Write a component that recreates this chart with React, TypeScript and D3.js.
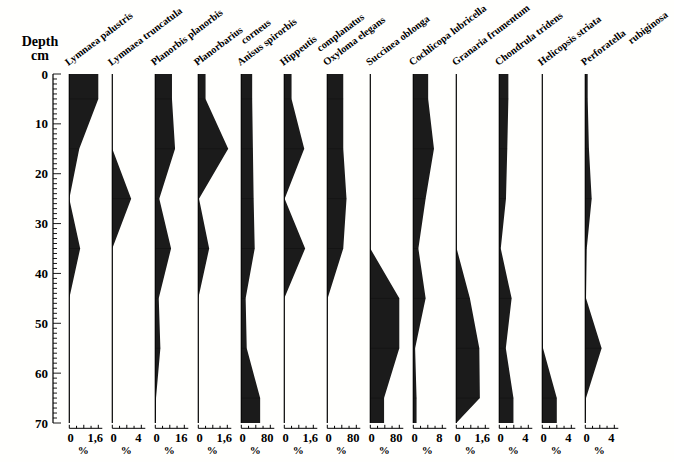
import React from 'react';
import * as d3 from 'd3';

// Sample depths (cm)
const depths = [0, 5, 15, 25, 35, 45, 55, 65, 70];

const speciesLabels: string[][] = [
  ['Lymnaea palustris'],
  ['Lymnaea truncatula'],
  ['Planorbis planorbis'],
  ['Planorbarius', 'corneus'],
  ['Anisus spirorbis'],
  ['Hippeutis', 'complanatus'],
  ['Oxyloma elegans'],
  ['Succinea oblonga'],
  ['Cochlicopa lubricella'],
  ['Granaria frumentum'],
  ['Chondrula tridens'],
  ['Helicopsis striata'],
  ['Perforatella', 'rubiginosa'],
];

const axisMax = [1.6, 4, 16, 1.6, 80, 1.6, 80, 80, 8, 1.6, 4, 4, 4];
const axisMaxLabels = ['1,6', '4', '16', '1,6', '80', '1,6', '80', '80', '8', '1,6', '4', '4', '4'];

// Percent values at each depth
const lymnaeaPalustris = [1.6, 1.6, 0.55, 0, 0.6, 0, 0, 0, 0];
const lymnaeaTruncatula = [0, 0, 0, 2.6, 0, 0, 0, 0, 0];
const planorbisPlanorbis = [9.2, 9.2, 10.9, 2.2, 8.7, 1.9, 2.8, 0.4, 0.3];
const planorbariusCorneus = [0.4, 0.4, 1.65, 0.04, 0.6, 0, 0, 0, 0];
const anisusSpirorbis = [30, 30, 32, 34, 37, 12, 15, 52, 52];
const hippeutisComplanatus = [0.4, 0.4, 1.1, 0.02, 1.15, 0, 0, 0, 0];
const oxylomaElegans = [44, 44, 44, 53, 44, 1, 0, 0, 0];
const succineaOblonga = [0, 0, 0, 0, 0, 80, 80, 38, 38];
const cochlicopaLubricella = [4.1, 4.1, 5.7, 3.4, 1.4, 3.4, 0.5, 0.9, 0.9];
const granariaFrumentum = [0, 0, 0, 0, 0.02, 0.75, 1.27, 1.3, 0];
const chondrulaTridens = [1.25, 1.25, 1.1, 0.92, 0.2, 1.7, 0.9, 1.95, 1.95];
const helicopsisStriata = [0, 0, 0, 0, 0, 0, 0.1, 2, 2];
const perforatellaRubiginosa = [0.33, 0.33, 0.5, 0.88, 0.2, 0.1, 2.25, 0.1, 0.05];

const seriesValues = [
  lymnaeaPalustris,
  lymnaeaTruncatula,
  planorbisPlanorbis,
  planorbariusCorneus,
  anisusSpirorbis,
  hippeutisComplanatus,
  oxylomaElegans,
  succineaOblonga,
  cochlicopaLubricella,
  granariaFrumentum,
  chondrulaTridens,
  helicopsisStriata,
  perforatellaRubiginosa,
];

const depthTicks = [0, 10, 20, 30, 40, 50, 60, 70];

const W = 674;
const H = 462;
const FONT = '"Liberation Serif", "DejaVu Serif", serif';
const FILL = '#1b1b1b';

export default function App() {
  const y = d3.scaleLinear().domain([0, 70]).range([74, 423]);
  const px = d3.scaleLinear().domain([0, seriesValues.length - 1]).range([69.3, 585.3]);
  const panelW = 29;
  const minorTicks = d3.range(0, 71, 1);
  const axisY = 428.3;
  const ROT = -37;

  return (
    <svg
      width={W}
      height={H}
      viewBox={`0 0 ${W} ${H}`}
      style={{ position: 'absolute', left: 0, top: 0, background: '#fffffd' }}
      fontFamily={FONT}
    >
      <rect x={0} y={0} width={W} height={H} fill="#fffffd" />
      {/* Depth header */}
      <text x={40} y={46} textAnchor="middle" fontSize={14} fontWeight="bold">Depth</text>
      <text x={40} y={60} textAnchor="middle" fontSize={14} fontWeight="bold">cm</text>

      {/* Depth axis */}
      <line x1={53} x2={53} y1={y(0)} y2={y(70)} stroke="#000" strokeWidth={1.2} />
      {minorTicks.map((d) => (
        <line
          key={'mt' + d}
          x1={53}
          x2={d % 10 === 0 ? 61 : 57}
          y1={y(d)}
          y2={y(d)}
          stroke="#000"
          strokeWidth={0.9}
        />
      ))}
      {depthTicks.map((d) => (
        <text
          key={'dl' + d}
          x={48}
          y={y(d)}
          dy="0.35em"
          textAnchor="end"
          fontSize={13}
          fontWeight="bold"
        >
          {d}
        </text>
      ))}

      {seriesValues.map((vals, i) => {
        const x0 = px(i);
        const xs = d3.scaleLinear().domain([0, axisMax[i]]).range([x0, x0 + panelW]);
        const pts = depths.map((d, k) => ({ d, v: vals[k] }));
        const area = d3
          .area<{ d: number; v: number }>()
          .y((p) => y(p.d))
          .x0(x0)
          .x1((p) => xs(p.v));
        const lines = speciesLabels[i];
        const lx = x0 - 1;
        const ly = 66;
        return (
          <g key={'p' + i}>
            <path d={area(pts) || ''} fill={FILL} />
            {pts.slice(1, -1).map((p, k) =>
              p.v > 0 ? (
                <line
                  key={'hl' + k}
                  x1={x0}
                  x2={xs(p.v)}
                  y1={y(p.d)}
                  y2={y(p.d)}
                  stroke="#000"
                  strokeOpacity={0.4}
                  strokeWidth={0.6}
                />
              ) : null
            )}
            <line x1={x0} x2={x0} y1={y(0)} y2={y(70)} stroke="#000" strokeWidth={1.2} />

            {/* Species label */}
            <g transform={`translate(${lx},${ly}) rotate(${ROT})`}>
              <text x={0} y={0} fontSize={10.3} fontWeight="bold">{lines[0]}</text>
              {lines[1] && (
                <text x={lines[0].length * 4.2} y={11} fontSize={10.3} fontWeight="bold">
                  {lines[1]}
                </text>
              )}
            </g>

            {/* Bottom scale axis */}
            <line x1={x0} x2={x0 + 33} y1={axisY} y2={axisY} stroke="#000" strokeWidth={1} />
            {[0, 0.25, 0.5, 0.75, 1].map((f) => (
              <line
                key={'bt' + f}
                x1={xs(f * axisMax[i])}
                x2={xs(f * axisMax[i])}
                y1={axisY}
                y2={axisY - (f === 0 || f === 0.5 || f === 1 ? 3.5 : 2.5)}
                stroke="#000"
                strokeWidth={1}
              />
            ))}
            <text x={x0 + 1.4} y={441.5} textAnchor="middle" fontSize={12.5} fontWeight="bold">0</text>
            <text x={x0 + 26} y={441.5} textAnchor="middle" fontSize={12.5} fontWeight="bold">
              {axisMaxLabels[i]}
            </text>
            <text x={x0 + 14} y={454} textAnchor="middle" fontSize={11} fontWeight="bold">%</text>
          </g>
        );
      })}
    </svg>
  );
}
